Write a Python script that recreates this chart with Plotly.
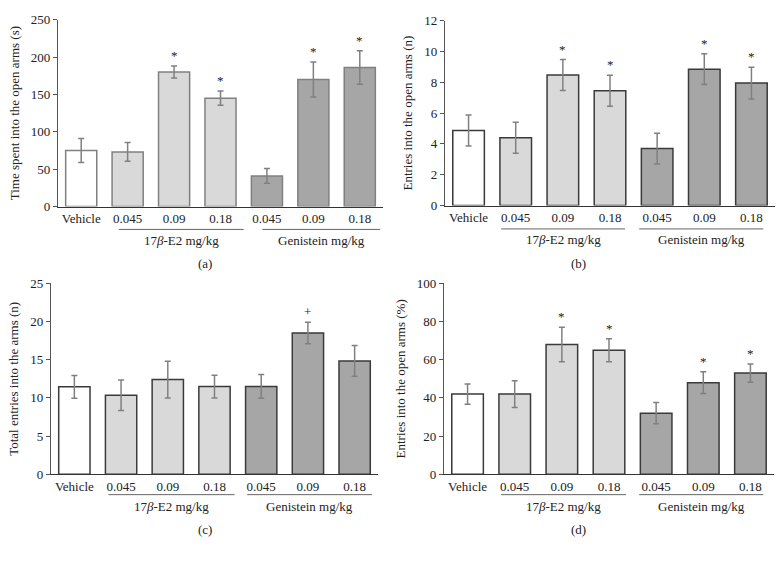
import plotly.graph_objects as go

# ---------------- data ----------------
categories = ["Vehicle", "0.045", "0.09", "0.18", "0.045", "0.09", "0.18"]
bar_fills = ["#ffffff", "#d9d9d9", "#d9d9d9", "#d9d9d9", "#a6a6a6", "#a6a6a6", "#a6a6a6"]

time_open = [75, 73, 180, 145, 41, 170, 186]
time_open_err = [16, 12.5, 8, 9.5, 10, 23.5, 22.5]

entries_open = [4.87, 4.4, 8.47, 7.45, 3.7, 8.85, 7.95]
entries_open_err = [1.0, 1.0, 1.0, 1.0, 1.0, 1.0, 1.03]

total_entries = [11.45, 10.35, 12.4, 11.48, 11.5, 18.5, 14.85]
total_entries_err = [1.5, 2.0, 2.4, 1.5, 1.55, 1.4, 2.0]

pct_open = [42, 42, 68, 65, 32, 48, 53]
pct_open_err = [5.3, 7, 9, 6, 5.6, 5.7, 4.8]

marks_a = ["", "", "*", "*", "", "*", "*"]
marks_b = ["", "", "*", "*", "", "*", "*"]
marks_c = ["", "", "", "", "", "+", ""]
marks_d = ["", "", "*", "*", "", "*", "*"]

group_labels = ["17<i>β</i>-E2 mg/kg", "Genistein mg/kg"]
panel_letters = ["(a)", "(b)", "(c)", "(d)"]
y_titles = ["Time spent into the open arms (s)", "Entries into the open arms (n)",
            "Total entries into the arms (n)", "Entries into the open arms (%)"]

# ---------------- layout helpers ----------------
W, H = 784, 563
FONT = "Liberation Serif"
TXT = "#222222"

def py(px):
    return (H - px) / H

panels = [
    dict(v=time_open, e=time_open_err, m=marks_a, xd=(58, 383), yd=(13, 205), yr=[0, 250], dt=50,
         oc="#808080", gl=[(0.81, 3.5), (3.9, 6.44)], off=(23.5, 34.5, 59)),
    dict(v=entries_open, e=entries_open_err, m=marks_b, xd=(445, 775), yd=(14, 204), yr=[0, 12], dt=2,
         oc="#3a3a3a", gl=[(0.69, 3.32), (3.62, 6.25)], off=(24, 35, 60)),
    dict(v=total_entries, e=total_entries_err, m=marks_c, xd=(51, 378), yd=(284, 480), yr=[0, 25], dt=5,
         oc="#3a3a3a", gl=[(0.73, 3.43), (3.7, 6.37)], off=(21, 33, 57)),
    dict(v=pct_open, e=pct_open_err, m=marks_d, xd=(444, 774), yd=(284, 480), yr=[0, 100], dt=20,
         oc="#3a3a3a", gl=[(0.71, 3.36), (3.64, 6.27)], off=(21, 33, 57)),
]

fig = go.Figure()
layout = dict(width=W, height=H, margin=dict(l=0, r=0, t=0, b=0),
              paper_bgcolor="white", plot_bgcolor="white", showlegend=False,
              font=dict(family=FONT, color=TXT, size=12))
annotations = []
shapes = []
x_idx = list(range(len(categories)))

for i, p in enumerate(panels):
    n = "" if i == 0 else str(i + 1)
    xa, ya = "x" + n, "y" + n
    fig.add_trace(go.Bar(
        x=x_idx, y=p["v"], xaxis=xa, yaxis=ya, width=0.67,
        marker=dict(color=bar_fills, line=dict(color=p["oc"], width=1.5)),
        error_y=dict(type="data", array=p["e"], color="#808080", thickness=1.5, width=3),
        hoverinfo="y",
    ))
    layout["xaxis" + n] = dict(
        domain=[p["xd"][0] / W, p["xd"][1] / W], anchor=ya, range=[-0.5, 6.5],
        tickvals=x_idx, ticktext=categories, ticks="", showline=True,
        linecolor="#333333", linewidth=1.2, showgrid=False, zeroline=False,
        tickfont=dict(family=FONT, size=13, color=TXT), fixedrange=True,
    )
    layout["yaxis" + n] = dict(
        domain=[py(p["yd"][1]), py(p["yd"][0])], anchor=xa, range=p["yr"], dtick=p["dt"],
        ticks="outside", ticklen=4, tickcolor="#555555", showline=True, linecolor="#555555",
        linewidth=1.2, showgrid=False, zeroline=False,
        tickfont=dict(family=FONT, size=13, color=TXT),
        title=dict(text=y_titles[i], font=dict(family=FONT, size=13, color=TXT), standoff=8),
        fixedrange=True,
    )
    for k, mk in enumerate(p["m"]):
        if mk:
            annotations.append(dict(
                x=k, y=p["v"][k] + p["e"][k], xref=xa, yref=ya, text=mk, showarrow=False,
                yanchor="bottom", yshift=1, font=dict(family=FONT, size=13, color=TXT)))
    axis_px = p["yd"][1]
    o_line, o_lab, o_letter = p["off"]
    for (x0, x1), lab in zip(p["gl"], group_labels):
        shapes.append(dict(type="line", xref=xa, yref="paper", x0=x0, x1=x1,
                           y0=py(axis_px + o_line), y1=py(axis_px + o_line),
                           line=dict(color="#666666", width=1)))
        annotations.append(dict(x=(x0 + x1) / 2, y=py(axis_px + o_lab), xref=xa, yref="paper",
                                text=lab, showarrow=False, yanchor="middle",
                                font=dict(family=FONT, size=13, color=TXT)))
    annotations.append(dict(x=(196 if i % 2 == 0 else 588) / W, y=py(axis_px + o_letter),
                            xref="paper", yref="paper", text=panel_letters[i], showarrow=False,
                            yanchor="middle", font=dict(family=FONT, size=13, color=TXT)))

layout["annotations"] = annotations
layout["shapes"] = shapes
fig.update_layout(**layout)

post = ("document.documentElement.style.margin='0px';"
        "document.body.style.margin='0px';"
        "document.body.style.padding='0px';"
        "document.documentElement.style.overflow='hidden';"
        "document.body.style.overflow='hidden';"
        "var d=document.getElementById('{plot_id}');"
        "d.style.position='fixed';d.style.left='0px';d.style.top='0px';")
fig.write_html("out.html", config={"displayModeBar": False}, post_script=post)
